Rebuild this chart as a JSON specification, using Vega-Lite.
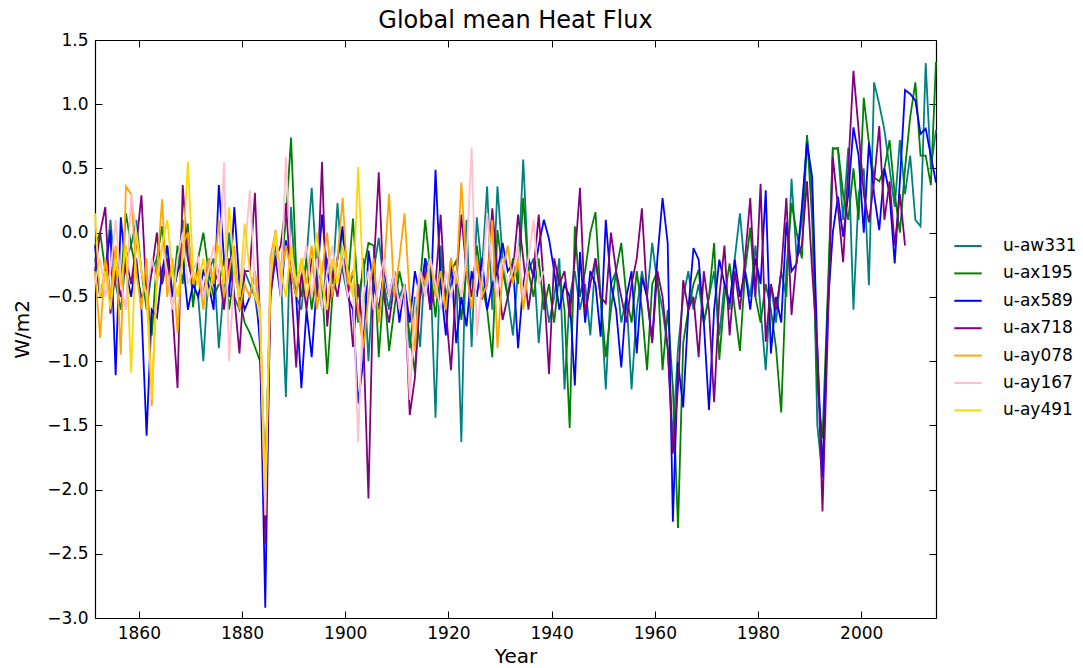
{
"$schema": "https://vega.github.io/schema/vega-lite/v6.json",
"width": 841, "height": 578,
"autosize": {"type": "none"},
"padding": {"left": 95, "top": 40, "right": 147, "bottom": 50},
"background": "white",
"title": {"text": "Global mean Heat Flux", "fontSize": 24, "font": "DejaVu Sans", "fontWeight": "normal", "color": "black", "offset": -2},
"config": {"view": {"stroke": null}, "font": "DejaVu Sans"},
"data": {"values": [
{"t":1851.5,"u-aw331":-0.2,"u-ax195":-0.1,"u-ax589":-0.1,"u-ax718":-0.3,"u-ay078":-0.3,"u-ay167":-0.4,"u-ay491":0.15},
{"t":1852.5,"u-aw331":-0.5,"u-ax195":0.0,"u-ax589":-0.5,"u-ax718":0.0,"u-ay078":-0.82,"u-ay167":-0.2,"u-ay491":-0.5},
{"t":1853.5,"u-aw331":-0.3,"u-ax195":-0.3,"u-ax589":-0.3,"u-ax718":0.2,"u-ay078":-0.2,"u-ay167":-0.5,"u-ay491":-0.3},
{"t":1854.5,"u-aw331":0.1,"u-ax195":-0.5,"u-ax589":0.02,"u-ax718":-0.63,"u-ay078":-0.5,"u-ay167":-0.3,"u-ay491":-0.6},
{"t":1855.5,"u-aw331":-0.4,"u-ax195":-0.2,"u-ax589":-1.11,"u-ax718":-0.3,"u-ay078":-0.1,"u-ay167":0.1,"u-ay491":-0.2},
{"t":1856.5,"u-aw331":-0.6,"u-ax195":-0.4,"u-ax589":0.12,"u-ax718":-0.5,"u-ay078":-0.95,"u-ay167":-0.4,"u-ay491":-0.4},
{"t":1857.5,"u-aw331":-0.2,"u-ax195":0.15,"u-ax589":-0.3,"u-ax718":-0.2,"u-ay078":0.36,"u-ay167":-0.6,"u-ay491":-0.1},
{"t":1858.5,"u-aw331":-0.1,"u-ax195":-0.1,"u-ax589":-0.5,"u-ax718":-0.4,"u-ay078":0.3,"u-ay167":0.3,"u-ay491":-1.09},
{"t":1859.5,"u-aw331":0.1,"u-ax195":-0.3,"u-ax589":-0.2,"u-ax718":-0.1,"u-ay078":-0.3,"u-ay167":0.0,"u-ay491":0.0},
{"t":1860.5,"u-aw331":-0.3,"u-ax195":-0.5,"u-ax589":-0.6,"u-ax718":0.29,"u-ay078":-0.6,"u-ay167":-0.3,"u-ay491":-0.3},
{"t":1861.5,"u-aw331":-0.6,"u-ax195":-0.45,"u-ax589":-1.58,"u-ax718":-0.5,"u-ay078":-0.2,"u-ay167":-0.5,"u-ay491":-0.5},
{"t":1862.5,"u-aw331":-0.3,"u-ax195":-0.8,"u-ax589":-0.6,"u-ax718":-0.3,"u-ay078":-1.35,"u-ay167":-0.2,"u-ay491":-1.3},
{"t":1863.5,"u-aw331":-0.2,"u-ax195":-0.2,"u-ax589":-0.66,"u-ax718":0.0,"u-ay078":-0.3,"u-ay167":-0.4,"u-ay491":-0.4},
{"t":1864.5,"u-aw331":-0.4,"u-ax195":0.05,"u-ax589":-0.3,"u-ax718":-0.4,"u-ay078":0.26,"u-ay167":-0.1,"u-ay491":-0.1},
{"t":1865.5,"u-aw331":-0.1,"u-ax195":-0.3,"u-ax589":-0.1,"u-ax718":-0.2,"u-ay078":-0.5,"u-ay167":-0.3,"u-ay491":0.1},
{"t":1866.5,"u-aw331":-0.5,"u-ax195":-0.5,"u-ax589":-0.5,"u-ax718":-0.6,"u-ay078":-0.2,"u-ay167":-0.6,"u-ay491":-0.3},
{"t":1867.5,"u-aw331":-0.3,"u-ax195":-0.1,"u-ax589":-0.3,"u-ax718":-1.21,"u-ay078":-0.78,"u-ay167":-0.2,"u-ay491":-0.5},
{"t":1868.5,"u-aw331":0.1,"u-ax195":-0.4,"u-ax589":-0.2,"u-ax718":0.37,"u-ay078":-0.1,"u-ay167":0.0,"u-ay491":-0.2},
{"t":1869.5,"u-aw331":-0.2,"u-ax195":0.07,"u-ax589":-0.6,"u-ax718":-0.2,"u-ay078":0.0,"u-ay167":-0.4,"u-ay491":0.55},
{"t":1870.5,"u-aw331":-0.4,"u-ax195":-0.58,"u-ax589":-0.4,"u-ax718":-0.4,"u-ay078":-0.4,"u-ay167":-0.3,"u-ay491":-0.3},
{"t":1871.5,"u-aw331":-0.5,"u-ax195":-0.2,"u-ax589":-0.5,"u-ax718":-0.3,"u-ay078":-0.3,"u-ay167":-0.2,"u-ay491":-0.4},
{"t":1872.5,"u-aw331":-1.0,"u-ax195":0.0,"u-ax589":-0.3,"u-ax718":-0.5,"u-ay078":-0.6,"u-ay167":-0.5,"u-ay491":-0.2},
{"t":1873.5,"u-aw331":-0.3,"u-ax195":-0.3,"u-ax589":-0.4,"u-ax718":-0.2,"u-ay078":-0.2,"u-ay167":-0.3,"u-ay491":-0.5},
{"t":1874.5,"u-aw331":-0.2,"u-ax195":-0.5,"u-ax589":-0.6,"u-ax718":-0.4,"u-ay078":-0.4,"u-ay167":-0.1,"u-ay491":-0.3},
{"t":1875.5,"u-aw331":-0.9,"u-ax195":-0.4,"u-ax589":0.37,"u-ax718":-0.3,"u-ay078":0.1,"u-ay167":-0.4,"u-ay491":-0.1},
{"t":1876.5,"u-aw331":-0.4,"u-ax195":-0.2,"u-ax589":-0.2,"u-ax718":-0.6,"u-ay078":-0.5,"u-ay167":0.55,"u-ay491":-0.4},
{"t":1877.5,"u-aw331":0.0,"u-ax195":-0.6,"u-ax589":-0.5,"u-ax718":-0.2,"u-ay078":-0.3,"u-ay167":-1.0,"u-ay491":0.2},
{"t":1878.5,"u-aw331":-0.5,"u-ax195":-0.3,"u-ax589":0.2,"u-ax718":-0.5,"u-ay078":-0.1,"u-ay167":-0.3,"u-ay491":-0.3},
{"t":1879.5,"u-aw331":-0.6,"u-ax195":-0.5,"u-ax589":-0.4,"u-ax718":-0.94,"u-ay078":-0.6,"u-ay167":-0.5,"u-ay491":-0.5},
{"t":1880.5,"u-aw331":-0.3,"u-ax195":-0.7,"u-ax589":-0.6,"u-ax718":-0.3,"u-ay078":-0.4,"u-ay167":-0.2,"u-ay491":0.07},
{"t":1881.5,"u-aw331":-0.4,"u-ax195":-0.78,"u-ax589":-0.5,"u-ax718":-0.3,"u-ay078":-0.5,"u-ay167":0.33,"u-ay491":-0.3},
{"t":1882.5,"u-aw331":-0.5,"u-ax195":-0.89,"u-ax589":-0.3,"u-ax718":0.31,"u-ay078":-0.3,"u-ay167":-0.4,"u-ay491":-0.5},
{"t":1883.5,"u-aw331":-0.8,"u-ax195":-1.0,"u-ax589":-0.9,"u-ax718":-0.7,"u-ay078":-0.6,"u-ay167":-0.7,"u-ay491":-0.6},
{"t":1884.5,"u-aw331":-1.9,"u-ax195":-2.0,"u-ax589":-2.92,"u-ax718":-2.42,"u-ay078":-2.2,"u-ay167":-2.2,"u-ay491":-2.0},
{"t":1885.5,"u-aw331":-0.5,"u-ax195":-0.4,"u-ax589":-0.4,"u-ax718":-0.5,"u-ay078":-0.2,"u-ay167":-0.3,"u-ay491":-0.4},
{"t":1886.5,"u-aw331":-0.1,"u-ax195":-0.2,"u-ax589":-0.2,"u-ax718":-0.2,"u-ay078":0.02,"u-ay167":0.0,"u-ay491":0.0},
{"t":1887.5,"u-aw331":-0.3,"u-ax195":-0.3,"u-ax589":-0.5,"u-ax718":-0.1,"u-ay078":-0.4,"u-ay167":-0.5,"u-ay491":-0.3},
{"t":1888.5,"u-aw331":-1.28,"u-ax195":0.1,"u-ax589":-0.06,"u-ax718":0.23,"u-ay078":-0.1,"u-ay167":0.59,"u-ay491":-0.5},
{"t":1889.5,"u-aw331":0.2,"u-ax195":0.74,"u-ax589":-0.3,"u-ax718":-0.4,"u-ay078":-0.3,"u-ay167":-0.2,"u-ay491":-0.1},
{"t":1890.5,"u-aw331":-0.5,"u-ax195":-0.3,"u-ax589":-0.5,"u-ax718":-1.05,"u-ay078":-0.5,"u-ay167":-0.4,"u-ay491":-0.4},
{"t":1891.5,"u-aw331":-0.6,"u-ax195":-0.5,"u-ax589":-1.21,"u-ax718":-0.3,"u-ay078":-0.2,"u-ay167":-0.3,"u-ay491":-0.2},
{"t":1892.5,"u-aw331":-0.2,"u-ax195":-0.2,"u-ax589":-0.6,"u-ax718":-0.6,"u-ay078":-0.4,"u-ay167":-0.1,"u-ay491":-0.5},
{"t":1893.5,"u-aw331":0.35,"u-ax195":-0.6,"u-ax589":-0.97,"u-ax718":-0.2,"u-ay078":-0.1,"u-ay167":-0.5,"u-ay491":-0.3},
{"t":1894.5,"u-aw331":-0.3,"u-ax195":-0.3,"u-ax589":-0.4,"u-ax718":-0.5,"u-ay078":-0.6,"u-ay167":-0.2,"u-ay491":0.0},
{"t":1895.5,"u-aw331":-0.6,"u-ax195":-0.4,"u-ax589":0.14,"u-ax718":0.55,"u-ay078":-0.3,"u-ay167":-0.6,"u-ay491":-0.4},
{"t":1896.5,"u-aw331":-0.2,"u-ax195":-1.1,"u-ax589":-0.3,"u-ax718":-0.73,"u-ay078":0.0,"u-ay167":-0.3,"u-ay491":-0.6},
{"t":1897.5,"u-aw331":-0.4,"u-ax195":-0.5,"u-ax589":-0.5,"u-ax718":-0.3,"u-ay078":-0.5,"u-ay167":-0.1,"u-ay491":-0.2},
{"t":1898.5,"u-aw331":0.23,"u-ax195":-0.2,"u-ax589":-0.2,"u-ax718":-0.5,"u-ay078":-0.2,"u-ay167":-0.4,"u-ay491":-0.4},
{"t":1899.5,"u-aw331":-0.3,"u-ax195":0.0,"u-ax589":0.05,"u-ax718":-0.2,"u-ay078":0.27,"u-ay167":-0.2,"u-ay491":-0.1},
{"t":1900.5,"u-aw331":-0.5,"u-ax195":-0.4,"u-ax589":-0.5,"u-ax718":-0.4,"u-ay078":-0.4,"u-ay167":-0.5,"u-ay491":-0.3},
{"t":1901.5,"u-aw331":-0.3,"u-ax195":0.11,"u-ax589":-0.6,"u-ax718":-0.89,"u-ay078":-0.3,"u-ay167":-0.4,"u-ay491":-0.5},
{"t":1902.5,"u-aw331":-0.7,"u-ax195":-0.5,"u-ax589":-1.33,"u-ax718":-0.4,"u-ay078":-0.6,"u-ay167":-1.63,"u-ay491":0.51},
{"t":1903.5,"u-aw331":-0.2,"u-ax195":-0.3,"u-ax589":-1.0,"u-ax718":-0.8,"u-ay078":-0.9,"u-ay167":-0.5,"u-ay491":-0.4},
{"t":1904.5,"u-aw331":-1.0,"u-ax195":-0.08,"u-ax589":-0.14,"u-ax718":-2.07,"u-ay078":-0.5,"u-ay167":-0.3},
{"t":1905.5,"u-aw331":-0.3,"u-ax195":-0.1,"u-ax589":-0.4,"u-ax718":-0.3,"u-ay078":-0.2,"u-ay167":-0.6},
{"t":1906.5,"u-aw331":-0.04,"u-ax195":-0.97,"u-ax589":-0.6,"u-ax718":0.47,"u-ay078":-0.7,"u-ay167":-0.4},
{"t":1907.5,"u-aw331":-0.4,"u-ax195":-0.4,"u-ax589":-0.3,"u-ax718":-0.5,"u-ay078":-0.3,"u-ay167":-0.2},
{"t":1908.5,"u-aw331":-0.6,"u-ax195":-0.92,"u-ax589":-0.5,"u-ax718":-0.7,"u-ay078":0.3,"u-ay167":-0.5},
{"t":1909.5,"u-aw331":-0.3,"u-ax195":-0.6,"u-ax589":-0.3,"u-ax718":-0.4,"u-ay078":-0.5,"u-ay167":-0.3},
{"t":1910.5,"u-aw331":-0.5,"u-ax195":-0.3,"u-ax589":-0.7,"u-ax718":-0.6,"u-ay078":-0.2,"u-ay167":-0.6},
{"t":1911.5,"u-aw331":-0.4,"u-ax195":-0.5,"u-ax589":-0.4,"u-ax718":-0.4,"u-ay078":0.15,"u-ay167":-0.4},
{"t":1912.5,"u-aw331":-0.9,"u-ax195":-0.8,"u-ax589":-0.7,"u-ax718":-1.42,"u-ay078":-0.5,"u-ay167":-1.3},
{"t":1913.5,"u-aw331":-0.5,"u-ax195":-1.09,"u-ax589":-0.3,"u-ax718":-1.13,"u-ay078":-0.92,"u-ay167":-0.6},
{"t":1914.5,"u-aw331":-0.89,"u-ax195":-0.4,"u-ax589":-0.5,"u-ax718":-0.5,"u-ay078":-0.3,"u-ay167":-0.3},
{"t":1915.5,"u-aw331":-0.2,"u-ax195":0.1,"u-ax589":-0.2,"u-ax718":-0.3,"u-ay078":-0.4,"u-ay167":-0.5},
{"t":1916.5,"u-aw331":-0.3,"u-ax195":-0.3,"u-ax589":-0.6,"u-ax718":-0.6,"u-ay078":-0.2,"u-ay167":-0.2},
{"t":1917.5,"u-aw331":-1.44,"u-ax195":-0.66,"u-ax589":0.49,"u-ax718":-0.4,"u-ay078":-0.5,"u-ay167":-0.4},
{"t":1918.5,"u-aw331":-0.1,"u-ax195":-0.2,"u-ax589":-0.4,"u-ax718":0.14,"u-ay078":-0.3,"u-ay167":-0.6},
{"t":1919.5,"u-aw331":-0.6,"u-ax195":-0.5,"u-ax589":-0.8,"u-ax718":-0.6,"u-ay078":-0.6,"u-ay167":-0.3},
{"t":1920.5,"u-aw331":-0.4,"u-ax195":-0.3,"u-ax589":-0.2,"u-ax718":-1.07,"u-ay078":-0.2,"u-ay167":-0.5},
{"t":1921.5,"u-aw331":-0.3,"u-ax195":-0.22,"u-ax589":-0.86,"u-ax718":-0.4,"u-ay078":-0.4,"u-ay167":-0.3},
{"t":1922.5,"u-aw331":-1.63,"u-ax195":-0.68,"u-ax589":-0.5,"u-ax718":0.14,"u-ay078":0.39,"u-ay167":-0.5},
{"t":1923.5,"u-aw331":0.1,"u-ax195":-0.3,"u-ax589":-0.73,"u-ax718":-0.3,"u-ay078":-0.3,"u-ay167":-0.2},
{"t":1924.5,"u-aw331":-0.89,"u-ax195":-0.5,"u-ax589":-0.3,"u-ax718":-0.5,"u-ay078":-0.6,"u-ay167":0.66},
{"t":1925.5,"u-aw331":0.12,"u-ax195":-0.1,"u-ax589":-0.5,"u-ax718":-0.2,"u-ay078":-0.2,"u-ay167":-0.8},
{"t":1926.5,"u-aw331":-0.3,"u-ax195":-0.4,"u-ax589":-0.2,"u-ax718":-0.52,"u-ay078":-0.5,"u-ay167":-0.4},
{"t":1927.5,"u-aw331":0.36,"u-ax195":-0.6,"u-ax589":-0.6,"u-ax718":-0.4,"u-ay078":-0.4,"u-ay167":0.15},
{"t":1928.5,"u-aw331":-0.6,"u-ax195":-0.97,"u-ax589":-0.4,"u-ax718":0.19,"u-ay078":0.1,"u-ay167":-0.3},
{"t":1929.5,"u-aw331":0.36,"u-ax195":0.02,"u-ax589":-0.3,"u-ax718":-0.3,"u-ay078":-0.9,"u-ay167":-0.5},
{"t":1930.5,"u-aw331":-0.2,"u-ax195":-0.3,"u-ax589":-0.08,"u-ax718":-0.68,"u-ay078":-0.3,"u-ay167":-0.2},
{"t":1931.5,"u-aw331":-0.5,"u-ax195":-0.5,"u-ax589":-0.3,"u-ax718":-0.5,"u-ay078":-0.1,"u-ay167":-0.4},
{"t":1932.5,"u-aw331":-0.8,"u-ax195":-0.2,"u-ax589":-0.24,"u-ax718":-0.3,"u-ay078":-0.4,"u-ay167":-0.3},
{"t":1933.5,"u-aw331":-0.3,"u-ax195":-0.4,"u-ax589":-0.9,"u-ax718":0.14,"u-ay078":-0.2,"u-ay167":-0.1},
{"t":1934.5,"u-aw331":0.57,"u-ax195":0.27,"u-ax589":-0.4,"u-ax718":-0.2,"u-ay078":-0.6,"u-ay167":-0.5},
{"t":1935.5,"u-aw331":-0.3,"u-ax195":-0.3,"u-ax589":-0.2,"u-ax718":-0.6,"u-ay078":-0.3,"u-ay167":-0.2},
{"t":1936.5,"u-aw331":-0.2,"u-ax195":-0.5,"u-ax589":-0.35,"u-ax718":-0.3,"u-ay167":0.1},
{"t":1937.5,"u-aw331":-0.86,"u-ax195":-0.2,"u-ax589":-0.1,"u-ax718":0.14,"u-ay167":-0.4},
{"t":1938.5,"u-aw331":-0.4,"u-ax195":-0.6,"u-ax589":0.1,"u-ax718":-0.4,"u-ay167":-0.3},
{"t":1939.5,"u-aw331":-0.7,"u-ax195":-0.4,"u-ax589":-0.05,"u-ax718":-1.1},
{"t":1940.5,"u-aw331":-0.5,"u-ax195":-0.7,"u-ax589":-0.3,"u-ax718":-0.2},
{"t":1941.5,"u-aw331":-0.2,"u-ax195":-0.3,"u-ax589":-0.6,"u-ax718":-0.4},
{"t":1942.5,"u-aw331":-1.22,"u-ax195":-0.6,"u-ax589":-0.4,"u-ax718":-0.3},
{"t":1943.5,"u-aw331":-0.5,"u-ax195":-1.52,"u-ax589":-0.5,"u-ax718":-0.66},
{"t":1944.5,"u-aw331":-0.3,"u-ax195":0.05,"u-ax589":-1.19,"u-ax718":-0.2},
{"t":1945.5,"u-aw331":-0.6,"u-ax195":-0.5,"u-ax589":-0.15,"u-ax718":0.35},
{"t":1946.5,"u-aw331":-0.4,"u-ax195":-0.3,"u-ax589":-0.7,"u-ax718":-0.63},
{"t":1947.5,"u-aw331":-0.8,"u-ax195":0.0,"u-ax589":-0.3,"u-ax718":-0.4},
{"t":1948.5,"u-aw331":-0.2,"u-ax195":0.16,"u-ax589":-0.4,"u-ax718":-0.2},
{"t":1949.5,"u-aw331":-0.5,"u-ax195":-0.5,"u-ax589":-0.81,"u-ax718":-0.5},
{"t":1950.5,"u-aw331":-1.22,"u-ax195":-0.97,"u-ax589":0.1,"u-ax718":-0.55},
{"t":1951.5,"u-aw331":-0.4,"u-ax195":-0.6,"u-ax589":-0.4,"u-ax718":0.0},
{"t":1952.5,"u-aw331":-0.3,"u-ax195":-0.3,"u-ax589":-0.6,"u-ax718":-0.3},
{"t":1953.5,"u-aw331":-0.7,"u-ax195":-0.08,"u-ax589":-1.05,"u-ax718":-0.5},
{"t":1954.5,"u-aw331":-0.5,"u-ax195":-0.5,"u-ax589":-0.5,"u-ax718":-0.7},
{"t":1955.5,"u-aw331":-1.22,"u-ax195":-0.7,"u-ax589":-0.3,"u-ax718":-0.4},
{"t":1956.5,"u-aw331":-0.6,"u-ax195":-0.3,"u-ax589":-0.94,"u-ax718":-0.2},
{"t":1957.5,"u-aw331":-0.3,"u-ax195":-0.6,"u-ax589":-0.35,"u-ax718":0.19},
{"t":1958.5,"u-aw331":-0.5,"u-ax195":-1.07,"u-ax589":-0.5,"u-ax718":-0.5},
{"t":1959.5,"u-aw331":-0.08,"u-ax195":-0.4,"u-ax589":-0.84,"u-ax718":-0.86},
{"t":1960.5,"u-aw331":-0.4,"u-ax195":-0.3,"u-ax589":-0.2,"u-ax718":-0.3},
{"t":1961.5,"u-aw331":-0.6,"u-ax195":-1.07,"u-ax589":0.27,"u-ax718":-0.5},
{"t":1962.5,"u-aw331":-0.9,"u-ax195":-0.6,"u-ax589":-0.08,"u-ax718":-0.9},
{"t":1963.5,"u-aw331":-1.6,"u-ax195":-1.2,"u-ax589":-2.25,"u-ax718":-1.72},
{"t":1964.5,"u-aw331":-0.9,"u-ax195":-2.3,"u-ax589":-1.01,"u-ax718":-1.2},
{"t":1965.5,"u-aw331":-0.5,"u-ax195":-0.86,"u-ax589":-1.36,"u-ax718":-0.37},
{"t":1966.5,"u-aw331":-0.3,"u-ax195":-0.6,"u-ax589":-0.6,"u-ax718":-0.6},
{"t":1967.5,"u-aw331":-0.6,"u-ax195":-0.4,"u-ax589":-0.12,"u-ax718":-0.5},
{"t":1968.5,"u-aw331":-0.4,"u-ax195":-0.29,"u-ax589":-0.21,"u-ax718":-0.97},
{"t":1969.5,"u-aw331":-0.7,"u-ax195":-0.7,"u-ax589":-0.7,"u-ax718":-0.3},
{"t":1970.5,"u-aw331":-0.5,"u-ax195":-0.5,"u-ax589":-1.38,"u-ax718":-0.6},
{"t":1971.5,"u-aw331":-0.3,"u-ax195":-0.08,"u-ax589":-0.6,"u-ax718":-1.32},
{"t":1972.5,"u-aw331":-0.8,"u-ax195":-0.99,"u-ax589":-0.21,"u-ax718":-0.5},
{"t":1973.5,"u-aw331":-0.4,"u-ax195":-0.5,"u-ax589":-0.4,"u-ax718":-0.1},
{"t":1974.5,"u-aw331":-0.6,"u-ax195":-0.24,"u-ax589":-0.55,"u-ax718":-0.8},
{"t":1975.5,"u-aw331":-0.2,"u-ax195":-0.6,"u-ax589":-0.21,"u-ax718":-0.3},
{"t":1976.5,"u-aw331":0.15,"u-ax195":-0.92,"u-ax589":-0.5,"u-ax718":-0.6},
{"t":1977.5,"u-aw331":-0.3,"u-ax195":-0.3,"u-ax589":-0.3,"u-ax718":-0.2},
{"t":1978.5,"u-aw331":-0.5,"u-ax195":0.04,"u-ax589":-0.6,"u-ax718":0.27},
{"t":1979.5,"u-aw331":-0.1,"u-ax195":-0.5,"u-ax589":-0.2,"u-ax718":-0.5},
{"t":1980.5,"u-aw331":-0.6,"u-ax195":-0.7,"u-ax589":-0.4,"u-ax718":0.38},
{"t":1981.5,"u-aw331":-1.07,"u-ax195":-0.4,"u-ax589":0.33,"u-ax718":-0.85},
{"t":1982.5,"u-aw331":-0.4,"u-ax195":-0.6,"u-ax589":-0.94,"u-ax718":-0.4},
{"t":1983.5,"u-aw331":-0.7,"u-ax195":-0.9,"u-ax589":-0.5,"u-ax718":-0.6},
{"t":1984.5,"u-aw331":-0.3,"u-ax195":-1.4,"u-ax589":-0.7,"u-ax718":-0.3},
{"t":1985.5,"u-aw331":-0.5,"u-ax195":-0.3,"u-ax589":0.08,"u-ax718":0.27},
{"t":1986.5,"u-aw331":0.42,"u-ax195":0.23,"u-ax589":-0.3,"u-ax718":-0.64},
{"t":1987.5,"u-aw331":-0.2,"u-ax195":0.0,"u-ax589":-0.24,"u-ax718":-0.2},
{"t":1988.5,"u-aw331":0.1,"u-ax195":-0.2,"u-ax589":0.2,"u-ax718":-0.1},
{"t":1989.5,"u-aw331":0.75,"u-ax195":0.76,"u-ax589":0.7,"u-ax718":0.4},
{"t":1990.5,"u-aw331":0.3,"u-ax195":0.1,"u-ax589":0.43,"u-ax718":-0.3},
{"t":1991.5,"u-aw331":-1.5,"u-ax195":-1.2,"u-ax589":-0.9,"u-ax718":-0.9},
{"t":1992.5,"u-aw331":-1.9,"u-ax195":-1.6,"u-ax589":-1.9,"u-ax718":-2.17},
{"t":1993.5,"u-aw331":-0.6,"u-ax195":-0.5,"u-ax589":-0.6,"u-ax718":-0.8},
{"t":1994.5,"u-aw331":0.66,"u-ax195":0.65,"u-ax589":0.0,"u-ax718":0.59},
{"t":1995.5,"u-aw331":0.65,"u-ax195":0.66,"u-ax589":0.28,"u-ax718":0.2},
{"t":1996.5,"u-aw331":0.1,"u-ax195":0.3,"u-ax589":-0.03,"u-ax718":-0.23},
{"t":1997.5,"u-aw331":0.66,"u-ax195":0.1,"u-ax589":0.3,"u-ax718":0.5},
{"t":1998.5,"u-aw331":-0.6,"u-ax195":0.5,"u-ax589":0.82,"u-ax718":1.26},
{"t":1999.5,"u-aw331":0.3,"u-ax195":0.1,"u-ax589":0.6,"u-ax718":0.8},
{"t":2000.5,"u-aw331":0.5,"u-ax195":1.05,"u-ax589":0.0,"u-ax718":0.3},
{"t":2001.5,"u-aw331":-0.41,"u-ax195":0.7,"u-ax589":0.7,"u-ax718":0.08},
{"t":2002.5,"u-aw331":1.17,"u-ax195":0.43,"u-ax589":0.3,"u-ax718":0.4},
{"t":2003.5,"u-aw331":1.0,"u-ax195":0.4,"u-ax589":0.02,"u-ax718":0.83},
{"t":2004.5,"u-aw331":0.8,"u-ax195":0.5,"u-ax589":0.5,"u-ax718":0.1},
{"t":2005.5,"u-aw331":0.5,"u-ax195":0.72,"u-ax589":0.3,"u-ax718":0.4},
{"t":2006.5,"u-aw331":0.2,"u-ax195":0.3,"u-ax589":-0.24,"u-ax718":-0.1},
{"t":2007.5,"u-aw331":0.72,"u-ax195":0.0,"u-ax589":0.4,"u-ax718":0.3},
{"t":2008.5,"u-aw331":0.3,"u-ax195":0.5,"u-ax589":1.11,"u-ax718":-0.1},
{"t":2009.5,"u-aw331":0.6,"u-ax195":0.9,"u-ax589":1.08},
{"t":2010.5,"u-aw331":0.1,"u-ax195":1.17,"u-ax589":1.03},
{"t":2011.5,"u-aw331":0.05,"u-ax195":0.6,"u-ax589":0.77},
{"t":2012.5,"u-aw331":1.32,"u-ax195":0.6,"u-ax589":0.81},
{"t":2013.5,"u-aw331":0.5,"u-ax195":0.37,"u-ax589":0.6},
{"t":2014.5,"u-aw331":0.8,"u-ax195":1.33,"u-ax589":0.39}
]},
"transform": [
  {"fold": ["u-aw331","u-ax195","u-ax589","u-ax718","u-ay078","u-ay167","u-ay491"], "as": ["run","W"]},
  {"filter": "isValid(datum.W)"}
],
"layer": [
  {
    "mark": {"type": "line", "strokeWidth": 1.8},
    "encoding": {
      "x": {"field": "t", "type": "quantitative",
        "scale": {"domain": [1851.5, 2014.5], "nice": false, "zero": false},
        "axis": {"orient": "bottom", "values": [1860,1880,1900,1920,1940,1960,1980,2000], "format": "d", "grid": false,
          "tickSize": -7, "tickColor": "black", "tickWidth": 1, "domainColor": "black", "domainWidth": 1.2,
          "labelFontSize": 17, "labelFont": "DejaVu Sans", "labelColor": "black", "labelPadding": 14,
          "title": "Year", "titleFontSize": 20, "titleFont": "DejaVu Sans", "titleFontWeight": "normal", "titleColor": "black", "titlePadding": 5}},
      "y": {"field": "W", "type": "quantitative",
        "scale": {"domain": [-3, 1.5], "nice": false, "zero": false},
        "axis": {"orient": "left", "values": [-3,-2.5,-2,-1.5,-1,-0.5,0,0.5,1,1.5], "format": ".1f", "grid": false,
          "tickSize": -7, "tickColor": "black", "tickWidth": 1, "domainColor": "black", "domainWidth": 1.2,
          "labelFontSize": 17, "labelFont": "DejaVu Sans", "labelColor": "black", "labelPadding": 14,
          "title": "W/m2", "titleFontSize": 20, "titleFont": "DejaVu Sans", "titleFontWeight": "normal", "titleColor": "black", "titlePadding": 14}},
      "color": {"field": "run", "type": "nominal",
        "scale": {"domain": ["u-aw331","u-ax195","u-ax589","u-ax718","u-ay078","u-ay167","u-ay491"],
                  "range": ["#008080","#008000","#0000ff","#800080","#ffa500","#ffc0cb","#ffd700"]},
        "legend": {"orient": "none", "legendX": 858, "legendY": 191, "title": null, "symbolType": "stroke",
          "symbolSize": 750, "symbolStrokeWidth": 2, "labelFontSize": 17, "labelFont": "DejaVu Sans", "labelColor": "black",
          "rowPadding": 4.4, "labelOffset": 20, "padding": 0}}
    }
  },
  {
    "mark": {"type": "line", "opacity": 0},
    "encoding": {
      "x": {"field": "t", "type": "quantitative",
        "axis": {"orient": "top", "values": [1860,1880,1900,1920,1940,1960,1980,2000], "labels": false, "title": null, "grid": false,
          "tickSize": -7, "tickColor": "black", "domainColor": "black", "domainWidth": 1.2}},
      "y": {"field": "W", "type": "quantitative",
        "axis": {"orient": "right", "values": [-3,-2.5,-2,-1.5,-1,-0.5,0,0.5,1,1.5], "labels": false, "title": null, "grid": false,
          "tickSize": -7, "tickColor": "black", "domainColor": "black", "domainWidth": 1.2}},
      "detail": {"field": "run"}
    }
  }
],
"resolve": {"axis": {"x": "independent", "y": "independent"}}
}
